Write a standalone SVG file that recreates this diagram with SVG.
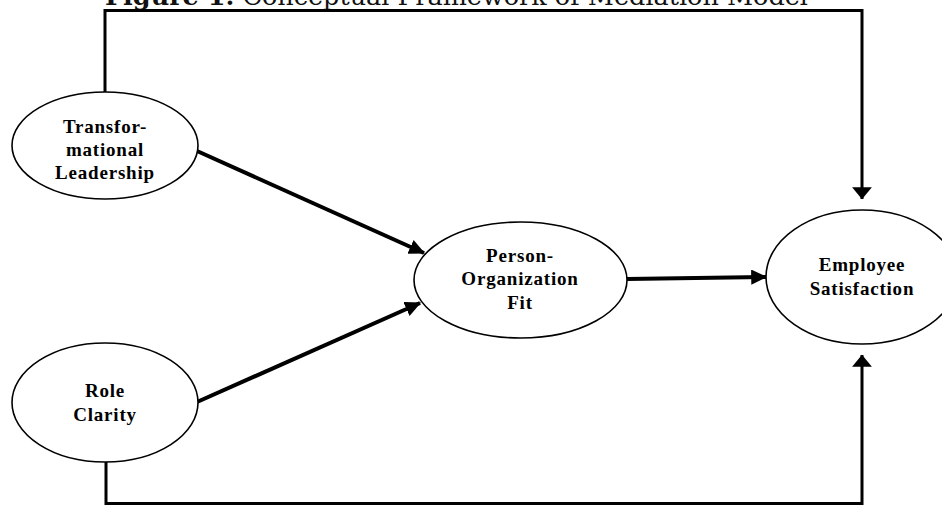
<svg xmlns="http://www.w3.org/2000/svg" width="942" height="514" viewBox="0 0 942 514">
<defs>
<marker id="ah" markerWidth="4" markerHeight="4" refX="3.7" refY="1.9" orient="auto" markerUnits="strokeWidth">
<path d="M0,0 L4,1.9 L0,3.8 Z" fill="#000"/>
</marker>
<marker id="ahv" markerWidth="5" markerHeight="7" refX="3.9" refY="3.3" orient="auto" markerUnits="strokeWidth">
<path d="M0,0 L4,3.3 L0,6.6 Z" fill="#000"/>
</marker>
<style>
.node ellipse{fill:#fff;stroke:#000;stroke-width:1.6}
.node text{font-family:"Liberation Serif","Times New Roman",serif;font-weight:bold;font-size:19px;letter-spacing:0.8px;text-anchor:middle;fill:#000}
.frame{fill:none;stroke:#000;stroke-width:3;stroke-linejoin:miter}
.diag{fill:none;stroke:#000;stroke-width:4}
.title{font-family:"DejaVu Serif","Liberation Serif",serif;font-size:24px;fill:#111}
</style>
</defs>
<rect width="942" height="514" fill="#fff"/>
<text class="title" x="105" y="5" textLength="703" lengthAdjust="spacingAndGlyphs"><tspan font-weight="bold">Figure 1.</tspan> Conceptual Framework of Mediation Model</text>
<g id="connectors">
<path class="frame" d="M105,92 V10.5 H862 V199" marker-end="url(#ahv)"/>
<path class="frame" d="M106,462 V503.5 H862 V355" marker-end="url(#ahv)"/>
<line class="diag" x1="197" y1="151" x2="424" y2="253" marker-end="url(#ah)"/>
<line class="diag" x1="197" y1="402" x2="420" y2="303" marker-end="url(#ah)"/>
<line class="diag" x1="627" y1="279" x2="766" y2="277" marker-end="url(#ah)"/>
</g>
<g id="transformational-leadership" class="node">
<ellipse cx="105" cy="145.5" rx="93" ry="53.5"/>
<text x="105" y="133">Transfor-</text>
<text x="105" y="156">mational</text>
<text x="105" y="179">Leadership</text>
</g>
<g id="role-clarity" class="node">
<ellipse cx="105" cy="402.5" rx="93" ry="59.5"/>
<text x="105" y="397">Role</text>
<text x="105" y="421">Clarity</text>
</g>
<g id="person-organization-fit" class="node">
<ellipse cx="520.5" cy="280" rx="106.5" ry="58"/>
<text x="520" y="262">Person-</text>
<text x="520" y="285">Organization</text>
<text x="520" y="309">Fit</text>
</g>
<g id="employee-satisfaction" class="node">
<ellipse cx="862" cy="277" rx="96" ry="67"/>
<text x="862" y="271">Employee</text>
<text x="862" y="295">Satisfaction</text>
</g>
</svg>
